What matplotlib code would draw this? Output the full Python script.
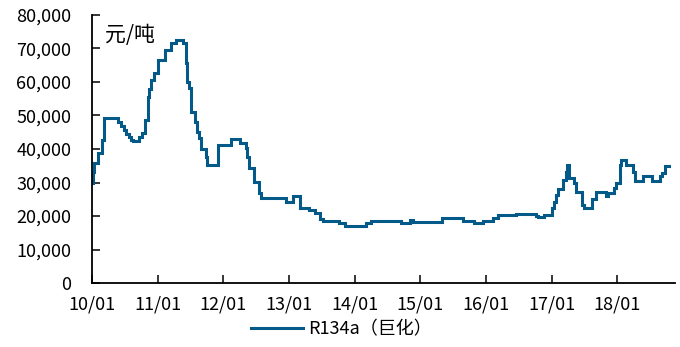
import matplotlib
matplotlib.use("Agg")
import matplotlib.pyplot as plt
from matplotlib.ticker import FuncFormatter, MultipleLocator
import pandas as pd

plt.rcParams['font.family'] = ['Noto Sans CJK SC', 'DejaVu Sans']

dates = [
    "2010-01-01", "2010-01-08", "2010-01-14", "2010-02-01", "2010-02-25", "2010-03-09",
    "2010-05-23", "2010-06-10", "2010-06-27", "2010-07-10", "2010-07-25", "2010-08-05",
    "2010-08-16", "2010-09-18", "2010-10-05", "2010-10-23", "2010-11-06", "2010-11-15",
    "2010-11-24", "2010-12-12", "2011-01-01", "2011-02-10", "2011-03-18", "2011-04-15",
    "2011-05-25", "2011-06-08", "2011-06-16", "2011-06-25", "2011-07-04", "2011-07-28",
    "2011-08-10", "2011-08-20", "2011-09-02", "2011-09-25", "2011-10-01", "2011-10-10",
    "2011-12-05", "2012-02-14", "2012-04-05", "2012-05-05", "2012-05-15", "2012-05-25",
    "2012-06-20", "2012-07-20", "2012-08-01", "2012-12-15", "2013-01-26", "2013-03-01",
    "2013-04-20", "2013-05-25", "2013-06-25", "2013-07-10", "2013-10-05", "2013-11-07",
    "2014-03-04", "2014-04-05", "2014-09-15", "2014-11-08", "2014-11-20", "2015-05-05",
    "2015-08-25", "2015-10-30", "2015-12-15", "2016-02-10", "2016-03-09", "2016-06-19",
    "2016-10-05", "2016-10-17", "2016-11-20", "2017-01-01", "2017-01-12", "2017-01-27",
    "2017-02-08", "2017-03-08", "2017-03-20", "2017-03-27", "2017-04-08", "2017-05-05",
    "2017-05-15", "2017-06-20", "2017-06-28", "2017-08-15", "2017-09-03", "2017-11-01",
    "2017-11-12", "2017-12-15", "2017-12-28", "2018-01-15", "2018-01-25", "2018-02-20",
    "2018-04-01", "2018-04-10", "2018-05-25", "2018-07-15", "2018-08-25", "2018-09-08",
    "2018-09-25", "2018-10-15",
]
prices = [
    29800, 33000, 35700, 38800, 42700, 49250,
    48000, 47000, 45700, 44500, 43700, 42800,
    42400, 43500, 44700, 48700, 55600, 58000,
    60600, 62800, 66600, 69500, 71500, 72500,
    71500, 65600, 60000, 58100, 51100, 48150,
    45000, 43200, 40000, 37700, 35200, 35200,
    41200, 42900, 41700, 40200, 37700, 34200,
    30250, 26800, 25300, 24300, 26100, 22500,
    21800, 20800, 19000, 18600, 18000, 17100,
    18000, 18600, 18000, 18800, 18100, 19300,
    18500, 18000, 18400, 19300, 20300, 20600,
    20100, 19800, 20300, 22300, 24300, 26300,
    28000, 30700, 33000, 35200, 31200, 29900,
    27300, 23300, 22300, 25000, 27100, 26000,
    27000, 28300, 29800, 35200, 36700, 35200,
    33200, 30300, 31900, 30300, 31900, 32700,
    34900, 34900,
]
xtick_labels = ["10/01", "11/01", "12/01", "13/01", "14/01", "15/01", "16/01", "17/01", "18/01"]
series_name = "R134a（巨化）"
unit_label = "元/吨"

x = pd.to_datetime(dates)

fig = plt.figure(figsize=(6.8, 3.47), dpi=100)
ax = fig.add_axes([0.1353, 0.1844, 0.8577, 0.7724])
ax.plot(x, prices, drawstyle="steps-post", color="#035a89", lw=2.2, label=series_name,
        solid_joinstyle="miter")

ax.set_ylim(0, 80000)
ax.yaxis.set_major_locator(MultipleLocator(10000))
ax.yaxis.set_major_formatter(FuncFormatter(lambda v, p: f"{int(v):,}"))
ax.set_xlim(pd.Timestamp("2010-01-01"), pd.Timestamp("2018-11-20"))
tick_pos = [pd.Timestamp(f"20{lbl[:2]}-01-01") for lbl in xtick_labels]
ax.set_xticks(tick_pos)
ax.set_xticklabels(xtick_labels)

for s in ["top", "right"]:
    ax.spines[s].set_visible(False)
for s in ["left", "bottom"]:
    ax.spines[s].set_color("black")
    ax.spines[s].set_linewidth(1.3)
ax.tick_params(axis="both", direction="in", length=6, width=1.1, labelsize=13, colors="black")
ax.tick_params(axis="x", pad=9)
ax.tick_params(axis="y", pad=15)

ax.text(0.022, 0.965, unit_label, transform=ax.transAxes, fontsize=15, va="top", ha="left")

fig.legend(loc="center", bbox_to_anchor=(0.502, 0.05), frameon=False, fontsize=13,
           handlelength=2.9, handletextpad=0.3)

fig.savefig("out.png", dpi=100)
